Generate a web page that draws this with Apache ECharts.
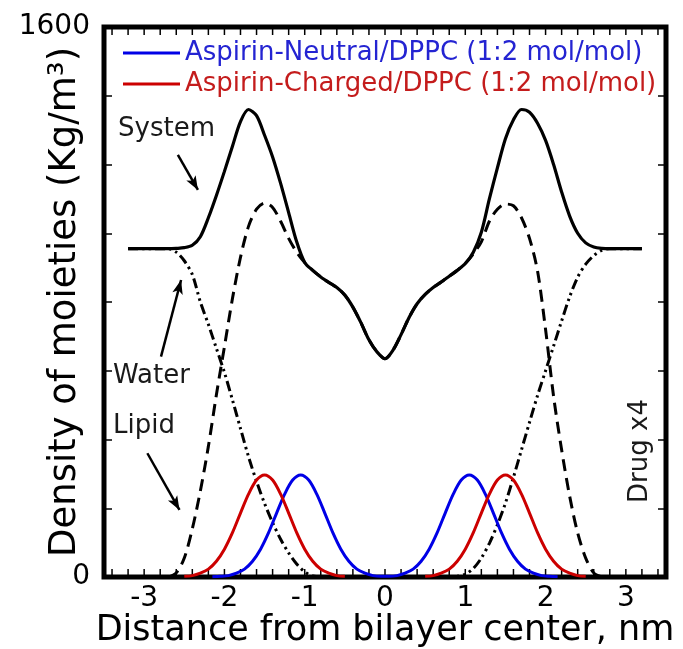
<!DOCTYPE html>
<html>
<head>
<meta charset="utf-8">
<title>Density profiles across the bilayer</title>
<script src="https://cdn.jsdelivr.net/npm/echarts@6/dist/echarts.min.js"></script>
<style>
    html, body { margin: 0; padding: 0; background: #fff; }
    #chart { width: 683px; height: 649px; }
</style>
</head>
<body>
<div id="chart"></div>
<script>
// distance from bilayer centre (nm)
const distance = [
    -3.2, -3.1, -3.0, -2.9, -2.8, -2.7, -2.6, -2.5, -2.4, -2.3,
    -2.2, -2.1, -2.0, -1.9, -1.8, -1.7, -1.6, -1.5, -1.4, -1.3,
    -1.2, -1.1, -1.0, -0.9, -0.8, -0.7, -0.6, -0.5, -0.4, -0.3,
    -0.2, -0.1, 0.0, 0.1, 0.2, 0.3, 0.4, 0.5, 0.6, 0.7,
    0.8, 0.9, 1.0, 1.1, 1.2, 1.3, 1.4, 1.5, 1.6, 1.7,
    1.8, 1.9, 2.0, 2.1, 2.2, 2.3, 2.4, 2.5, 2.6, 2.7,
    2.8, 2.9, 3.0, 3.1, 3.2
];
// densities (Kg/m3)
const system = [
    955, 955, 955, 955, 955, 955, 956, 958, 965, 990,
    1045, 1110, 1180, 1253, 1325, 1360, 1342, 1285, 1222, 1145,
    1060, 975, 915, 892, 873, 857, 842, 820, 785, 740,
    690, 655, 635, 660, 705, 755, 795, 822, 842, 858,
    875, 892, 912, 945, 1003, 1100, 1190, 1275, 1330, 1360,
    1352, 1320, 1270, 1200, 1120, 1050, 1000, 972, 960, 956,
    955, 955, 955, 955, 955
];
const water = [
    955, 955, 955, 955, 955, 955, 945, 920, 880, 800,
    735, 665, 595, 515, 432, 350, 278, 214, 158, 110,
    70, 38, 15, 3, 0, null, null, null, null, null,
    null, null, null, null, null, null, null, null, null, null,
    0, 2, 8, 25, 55, 98, 152, 215, 290, 370,
    450, 528, 600, 672, 745, 815, 872, 910, 935, 950,
    955, 955, 955, 955, 955
];
const lipid = [
    null, null, null, null, null, 0, 12, 55, 140, 250,
    380, 530, 670, 810, 930, 1020, 1070, 1088, 1075, 1035,
    985, 945, 915, 892, 873, 857, 842, 820, 785, 740,
    690, 655, 635, 660, 705, 755, 795, 822, 842, 858,
    875, 892, 912, 940, 975, 1035, 1070, 1085, 1080, 1045,
    985, 890, 720, 525, 370, 235, 128, 55, 12, 0,
    null, null, null, null, null
];
// drug densities, already multiplied by 4
const chargedDrug = [
    null, null, null, null, null, null, null, 2, 4, 11,
    23, 46, 81, 129, 186, 241, 282, 297, 282, 241,
    186, 129, 81, 46, 23, 11, 4, 2, null, null,
    null, null, null, null, null, null, null, 2, 4, 11,
    23, 46, 81, 129, 186, 241, 282, 297, 282, 241,
    186, 129, 81, 46, 23, 11, 4, 2, null, null,
    null, null, null, null, null
];
// neutral drug is read on its own grid, centred on its peaks at +-1.05 nm
const neutralDistance = [
    -2.15, -2.05, -1.95, -1.85, -1.75, -1.65, -1.55, -1.45, -1.35, -1.25, -1.15,
    -1.05, -0.95, -0.85, -0.75, -0.65, -0.55, -0.45, -0.35, -0.25, -0.15, -0.05,
    0.05, 0.15, 0.25, 0.35, 0.45, 0.55, 0.65, 0.75, 0.85, 0.95,
    1.05, 1.15, 1.25, 1.35, 1.45, 1.55, 1.65, 1.75, 1.85, 1.95, 2.05, 2.15
];
const neutralDrug = [
    1, 2, 4, 11, 23, 46, 81, 129, 186, 241, 282,
    297, 282, 241, 186, 129, 81, 46, 23, 11, 4, 2,
    2, 4, 11, 23, 46, 81, 129, 186, 241, 282,
    297, 282, 241, 186, 129, 81, 46, 23, 11, 4, 2, 1
];
const seriesNames = ['Aspirin-Neutral/DPPC (1:2 mol/mol)', 'Aspirin-Charged/DPPC (1:2 mol/mol)'];

const xLabelValues = [-3, -2, -1, 0, 1, 2, 3];
const xTickValues = [
    -3.4, -3.2, -3.0, -2.8, -2.6, -2.4, -2.2, -2.0, -1.8, -1.6, -1.4, -1.2, -1.0, -0.8, -0.6, -0.4, -0.2,
    0, 0.2, 0.4, 0.6, 0.8, 1.0, 1.2, 1.4, 1.6, 1.8, 2.0, 2.2, 2.4, 2.6, 2.8, 3.0, 3.2, 3.4
];
const yLabelValues = [0, 1600];
const Y_MIN = 0;
const Y_MAX = 1600;

// annotation arrows [from, to] in data units
const arrows = [
    [[-2.58, 1228], [-2.33, 1126]],   // System
    [[-2.79, 641], [-2.54, 864]],     // Water
    [[-2.96, 360], [-2.56, 195]]      // Lipid
];

const FONT = 'DejaVu Sans';
const BLUE = '#0000e6';
const RED = '#cc0000';
const TICK_LEN = 8;
const zip = (xs, ys) => xs.map((x, i) => [x, ys[i]]);

const lineBase = {
    type: 'line',
    symbol: 'none',
    showSymbol: false,
    smooth: 0.3,
    connectNulls: false,
    emphasis: { disabled: true }
};
const tickStyle = { color: '#000', width: 1.5 };

// x ticks on the bottom and top edges of the frame, pointing inward
function renderFrameTicks(params, api) {
    const x = api.value(0);
    const bottom = api.coord([x, Y_MIN]);
    const top = api.coord([x, Y_MAX]);
    const style = { stroke: '#000', lineWidth: 1.5 };
    return {
        type: 'group',
        children: [
            { type: 'line', shape: { x1: bottom[0], y1: bottom[1], x2: bottom[0], y2: bottom[1] - TICK_LEN }, style },
            { type: 'line', shape: { x1: top[0], y1: top[1], x2: top[0], y2: top[1] + TICK_LEN }, style }
        ]
    };
}

const chart = echarts.init(document.getElementById('chart'));
chart.setOption({
    animation: false,
    grid: {
        left: 104, right: 17, top: 27, bottom: 72,
        outerBoundsMode: 'none', containLabel: false,
        show: true, borderColor: '#000', borderWidth: 5, backgroundColor: 'transparent'
    },
    legend: {
        orient: 'vertical',
        left: 123, top: 40,
        padding: 0,
        icon: 'rect',
        itemWidth: 57, itemHeight: 3, itemGap: 5,
        selectedMode: false,
        textStyle: { fontFamily: FONT, fontSize: 26 },
        data: [
            { name: seriesNames[0], textStyle: { color: '#2424d2' } },
            { name: seriesNames[1], textStyle: { color: '#c41c1c' } }
        ]
    },
    xAxis: {
        type: 'value', min: -3.5, max: 3.5, position: 'bottom',
        axisLine: { show: false, onZero: false }, splitLine: { show: false },
        axisTick: { show: false },
        axisLabel: { customValues: xLabelValues, fontFamily: FONT, fontSize: 28, color: '#000', margin: 8 },
        name: 'Distance from bilayer center, nm',
        nameLocation: 'middle', nameGap: 36, nameMoveOverlap: false,
        nameTextStyle: { fontFamily: FONT, fontSize: 35, color: '#000' }
    },
    yAxis: [
        {
            type: 'value', min: Y_MIN, max: Y_MAX, interval: 200, position: 'left',
            axisLine: { show: false, onZero: false }, splitLine: { show: false },
            axisTick: { inside: true, length: TICK_LEN, lineStyle: tickStyle },
            axisLabel: {
                customValues: yLabelValues, formatter: v => String(v),
                fontFamily: FONT, fontSize: 28, color: '#000', margin: 14, padding: [0, 0, 9, 0]
            },
            name: 'Density of moieties (Kg/m³)',
            nameLocation: 'middle', nameGap: 20, nameMoveOverlap: false,
            nameTextStyle: { fontFamily: FONT, fontSize: 37, color: '#000' }
        },
        {
            type: 'value', min: Y_MIN, max: Y_MAX, interval: 200, position: 'right',
            axisLine: { show: false, onZero: false }, splitLine: { show: false }, axisLabel: { show: false },
            axisTick: { inside: true, length: TICK_LEN, lineStyle: tickStyle }
        }
    ],
    series: [
        {
            type: 'custom', name: 'frameTicks', silent: true, clip: false,
            data: xTickValues.map(v => [v, Y_MIN]),
            renderItem: renderFrameTicks
        },
        {
            ...lineBase, name: 'Water', data: zip(distance, water),
            itemStyle: { color: '#000' },
            lineStyle: { color: '#000', width: 3, type: [10, 4, 2.5, 4, 2.5, 4] }
        },
        {
            ...lineBase, name: 'Lipid', data: zip(distance, lipid),
            itemStyle: { color: '#000' },
            lineStyle: { color: '#000', width: 3, type: [12, 7] }
        },
        {
            ...lineBase, name: 'System', data: zip(distance, system),
            itemStyle: { color: '#000' },
            lineStyle: { color: '#000', width: 3.2, type: 'solid' },
            markLine: {
                silent: true,
                symbol: ['none', 'arrow'],
                symbolSize: [8, 14],
                label: { show: false },
                emphasis: { disabled: true },
                lineStyle: { color: '#000', width: 2.5, type: 'solid' },
                data: arrows.map(a => [{ coord: a[0] }, { coord: a[1] }])
            }
        },
        {
            ...lineBase, name: seriesNames[0], data: zip(neutralDistance, neutralDrug),
            itemStyle: { color: BLUE },
            lineStyle: { color: BLUE, width: 3 }
        },
        {
            ...lineBase, name: seriesNames[1], data: zip(distance, chargedDrug),
            itemStyle: { color: RED },
            lineStyle: { color: RED, width: 3 }
        }
    ],
    graphic: [
        { type: 'text', left: 118, top: 116, style: { text: 'System', font: '26px "DejaVu Sans"', fill: '#1a1a1a' } },
        { type: 'text', left: 113, top: 363, style: { text: 'Water', font: '26px "DejaVu Sans"', fill: '#1a1a1a' } },
        { type: 'text', left: 113, top: 413, style: { text: 'Lipid', font: '26px "DejaVu Sans"', fill: '#1a1a1a' } },
        {
            type: 'text', x: 640, y: 451, rotation: Math.PI / 2,
            style: { text: 'Drug x4', font: '26px "DejaVu Sans"', fill: '#1a1a1a', align: 'center', verticalAlign: 'middle' }
        }
    ]
});
</script>
</body>
</html>
